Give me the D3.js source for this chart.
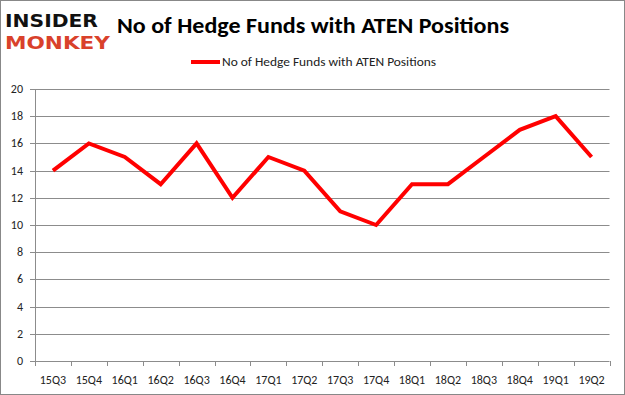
<!DOCTYPE html>
<html>
  <script src="https://d3js.org/d3.v7.min.js" type="text/JavaScript"></script>
  <body style="margin:0">
    <svg />
    <script>
var quarters = ['15Q3','15Q4','16Q1','16Q2','16Q3','16Q4','17Q1','17Q2','17Q3','17Q4','18Q1','18Q2','18Q3','18Q4','19Q1','19Q2'];
var funds = [14, 16, 15, 13, 16, 12, 15, 14, 11, 10, 13, 13, 15, 17, 18, 15];
var yTicks = [0, 2, 4, 6, 8, 10, 12, 14, 16, 18, 20];
var seriesName = 'No of Hedge Funds with ATEN Positions';

var W = 625, H = 395;
var svg = d3.select('svg').attr('width', W).attr('height', H)
  .style('font-family', 'Calibri, Carlito, "Open Sans", sans-serif');

svg.append('rect').attr('x', 0.5).attr('y', 0.5).attr('width', W - 1).attr('height', H - 1)
  .style('fill', 'white').style('stroke', '#888');

var xScale = d3.scaleBand().domain(quarters).range([35, 609.5]);
var yScale = d3.scaleLinear().domain([0, 20]).range([361, 89]);

// gridlines
svg.selectAll('line.grid').data(yTicks).enter().append('line')
  .attr('x1', 35).attr('x2', 609.5)
  .attr('y1', d => Math.round(yScale(d)) + 0.5).attr('y2', d => Math.round(yScale(d)) + 0.5)
  .style('stroke', '#8c8c8c').style('stroke-width', '1px');

// y axis
svg.append('line').attr('x1', 35.5).attr('x2', 35.5).attr('y1', 89).attr('y2', 361)
  .style('stroke', '#8c8c8c');
svg.selectAll('line.ytick').data(yTicks).enter().append('line')
  .attr('x1', 30).attr('x2', 35)
  .attr('y1', d => Math.round(yScale(d)) + 0.5).attr('y2', d => Math.round(yScale(d)) + 0.5)
  .style('stroke', '#8c8c8c');
svg.selectAll('text.ylab').data(yTicks).enter().append('text')
  .attr('x', 23).attr('y', d => yScale(d) + 4)
  .attr('text-anchor', 'end').style('font-size', '12px').style('fill', '#222')
  .text(d => d);

// x axis ticks
var edges = quarters.map(q => xScale(q)).concat([xScale.range()[1]]);
svg.selectAll('line.xtick').data(edges).enter().append('line')
  .attr('x1', d => Math.round(d) + 0.5).attr('x2', d => Math.round(d) + 0.5)
  .attr('y1', 361).attr('y2', 366)
  .style('stroke', '#8c8c8c');
svg.selectAll('text.xlab').data(quarters).enter().append('text')
  .attr('x', d => xScale(d) + xScale.bandwidth() / 2).attr('y', 384)
  .attr('text-anchor', 'middle').style('font-size', '12px').style('fill', '#222')
  .text(d => d);

// series line
var line = d3.line()
  .x((d, i) => xScale(quarters[i]) + xScale.bandwidth() / 2)
  .y(d => yScale(d));
svg.append('path').datum(funds).attr('d', line)
  .style('fill', 'none').style('stroke', '#ff0000').style('stroke-width', '4px')
  .style('stroke-linejoin', 'miter');

// title
svg.append('text').attr('x', 117).attr('y', 33)
  .style('font-size', '23px').style('font-weight', 'bold').style('fill', '#000')
  .attr('textLength', 392).attr('lengthAdjust', 'spacingAndGlyphs')
  .text(seriesName);

// legend
svg.append('line').attr('x1', 191).attr('x2', 220).attr('y1', 62).attr('y2', 62)
  .style('stroke', '#ff0000').style('stroke-width', '4px');
svg.append('text').attr('x', 222).attr('y', 66)
  .style('font-size', '12px').style('fill', '#222')
  .attr('textLength', 214).attr('lengthAdjust', 'spacingAndGlyphs')
  .text(seriesName);

// logo
svg.append('text').attr('x', 5).attr('y', 27)
  .style('font-family', '"DejaVu Sans", sans-serif').style('font-weight', 'bold')
  .style('font-size', '18px').style('fill', '#111')
  .attr('textLength', 93).attr('lengthAdjust', 'spacingAndGlyphs')
  .text('INSIDER');
svg.append('text').attr('x', 5).attr('y', 49)
  .style('font-family', '"DejaVu Sans", sans-serif').style('font-weight', 'bold')
  .style('font-size', '18px').style('fill', '#d9412b')
  .attr('textLength', 105).attr('lengthAdjust', 'spacingAndGlyphs')
  .text('MONKEY');
    </script>
  </body>
</html>
